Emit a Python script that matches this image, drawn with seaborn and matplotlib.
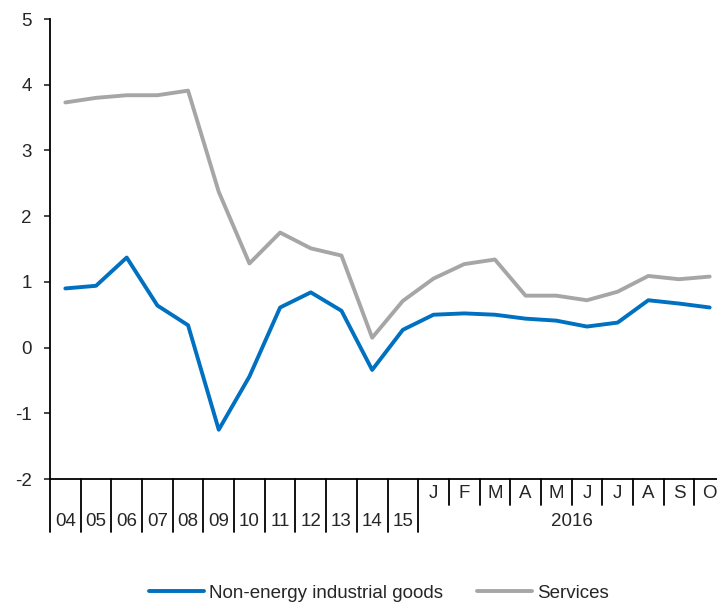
import matplotlib
matplotlib.use("Agg")
import matplotlib.pyplot as plt
import matplotlib.transforms as mtransforms
import seaborn as sns
import pandas as pd
import numpy as np

# Period labels: annual averages 2004-2015, then monthly 2016
years = ["04", "05", "06", "07", "08", "09", "10", "11", "12", "13", "14", "15"]
months = ["J", "F", "M", "A", "M", "J", "J", "A", "S", "O"]
month_year = "2016"

# Annual percentage changes
non_energy = [0.90, 0.94, 1.37, 0.64, 0.34, -1.25, -0.44, 0.61, 0.84, 0.56, -0.34, 0.27,
              0.50, 0.52, 0.50, 0.44, 0.41, 0.32, 0.38, 0.72, 0.67, 0.61]
services = [3.73, 3.80, 3.84, 3.84, 3.91, 2.37, 1.28, 1.75, 1.51, 1.40, 0.15, 0.71,
            1.05, 1.27, 1.34, 0.79, 0.79, 0.72, 0.85, 1.09, 1.04, 1.08]

series_names = ["Non-energy industrial goods", "Services"]
colors = ["#0070C0", "#A6A6A6"]

n = len(years) + len(months)
df = pd.DataFrame({
    "pos": list(range(n)) * 2,
    "value": non_energy + services,
    "series": [series_names[0]] * n + [series_names[1]] * n,
})

sns.set_style("white")
plt.rcParams["font.family"] = ["Liberation Sans", "DejaVu Sans"]
fs = 13.5

fig = plt.figure(figsize=(7.17, 6.05), dpi=100)
ax = fig.add_axes([50 / 717, 126 / 605, 675 / 717, 460 / 605])

sns.lineplot(data=df, x="pos", y="value", hue="series", palette=colors,
             linewidth=2.8, ax=ax, legend=False)

ax.set_xlim(-0.5, n - 0.5)
ax.set_ylim(-2, 5)
ax.set_yticks(range(-2, 6))
ax.set_yticklabels([str(v) for v in range(-2, 6)], fontsize=fs)
ax.tick_params(axis="y", direction="out", length=4.3, width=1.2, pad=9, left=True)
ax.set_xticks([])
ax.set_xlabel("")
ax.set_ylabel("")

for side in ["top", "right"]:
    ax.spines[side].set_visible(False)
for side in ["left", "bottom"]:
    ax.spines[side].set_linewidth(1.3)
    ax.spines[side].set_color("black")

trans = mtransforms.blended_transform_factory(ax.transData, ax.transAxes)
long_drop = -53 / 460
short_drop = -26 / 460

# Separators between periods below the axis
for i in range(n):
    b = i - 0.5
    drop = long_drop if i <= len(years) else short_drop
    ax.plot([b, b], [0, drop], color="black", lw=1.3, transform=trans, clip_on=False)

# Period labels
for i, lab in enumerate(years):
    ax.text(i, -42 / 460, lab, transform=trans, ha="center", va="center",
            fontsize=fs, clip_on=False)
for j, lab in enumerate(months):
    ax.text(len(years) + j, -14 / 460, lab, transform=trans, ha="center", va="center",
            fontsize=fs, clip_on=False)
ax.text(len(years) + (len(months) - 1) / 2, -42 / 460, month_year, transform=trans,
        ha="center", va="center", fontsize=fs, clip_on=False)

handles = [plt.Line2D([], [], color=c, lw=2.8) for c in colors]
fig.legend(handles, series_names, loc="center", bbox_to_anchor=(379 / 717, 12 / 605),
           ncol=2, frameon=False, fontsize=fs, handlelength=2.9,
           handletextpad=0.27, columnspacing=1.85)

fig.savefig("out.png", dpi=100)
